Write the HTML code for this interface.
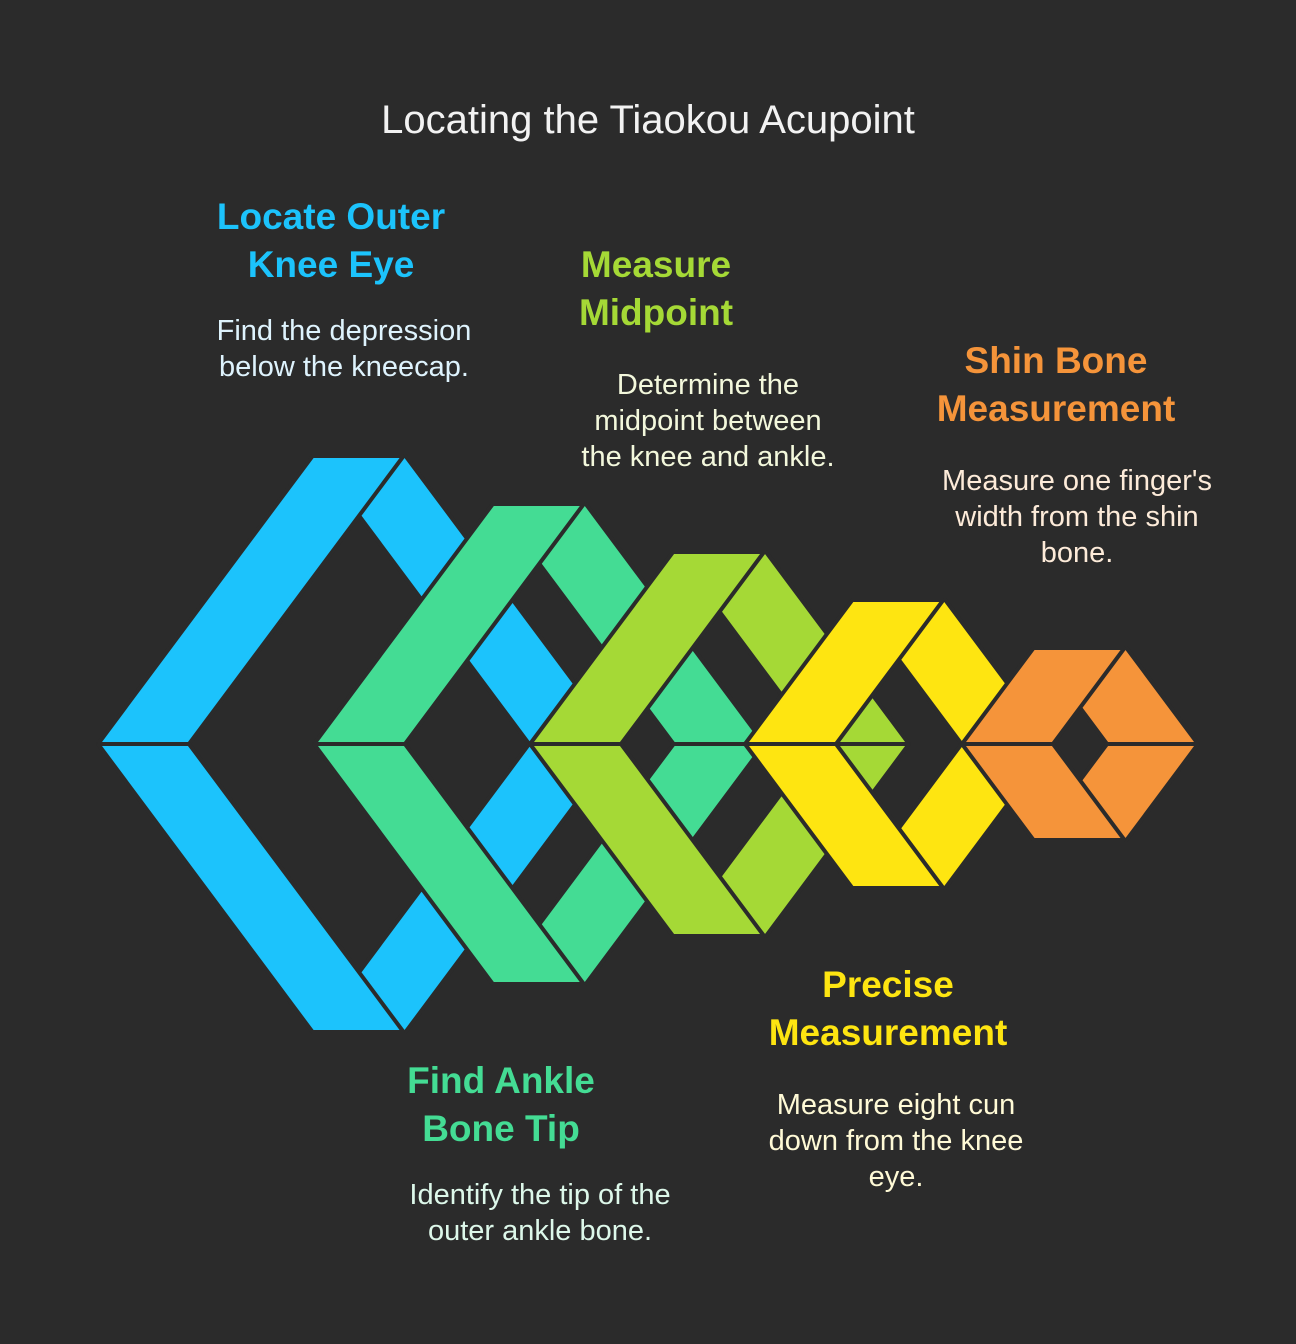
<!DOCTYPE html>
<html><head><meta charset="utf-8"><style>
html,body{margin:0;padding:0;background:#2b2b2b;}
svg{display:block;}
.t{font-family:"Liberation Sans",sans-serif;font-weight:bold;font-size:37px;text-anchor:middle;}
.d{font-family:"Liberation Sans",sans-serif;font-size:29px;text-anchor:middle;}
</style></head><body>
<svg width="1296" height="1344" viewBox="0 0 1296 1344" xmlns="http://www.w3.org/2000/svg">
<rect width="1296" height="1344" fill="#2b2b2b"/>
<g stroke="#2b2b2b" stroke-width="4" stroke-linejoin="bevel" id="g"></g>
<text x="648" y="133" font-family="Liberation Sans, sans-serif" font-size="40" fill="#f2f2f2" text-anchor="middle">Locating the Tiaokou Acupoint</text>
<text class="t" fill="#1cc3fc"><tspan x="331" y="229">Locate Outer</tspan><tspan x="331" y="277">Knee Eye</tspan></text>
<text class="d" fill="#def3fd"><tspan x="344" y="340">Find the depression</tspan><tspan x="344" y="376">below the kneecap.</tspan></text>
<text class="t" fill="#a5d936"><tspan x="656" y="277">Measure</tspan><tspan x="656" y="325">Midpoint</tspan></text>
<text class="d" fill="#f3f8dc"><tspan x="708" y="394">Determine the</tspan><tspan x="708" y="430">midpoint between</tspan><tspan x="708" y="466">the knee and ankle.</tspan></text>
<text class="t" fill="#f5943a"><tspan x="1056" y="373">Shin Bone</tspan><tspan x="1056" y="421">Measurement</tspan></text>
<text class="d" fill="#fdebd9"><tspan x="1077" y="490">Measure one finger's</tspan><tspan x="1077" y="526">width from the shin</tspan><tspan x="1077" y="562">bone.</tspan></text>
<text class="t" fill="#fee511"><tspan x="888" y="997">Precise</tspan><tspan x="888" y="1045">Measurement</tspan></text>
<text class="d" fill="#fffad6"><tspan x="896" y="1114">Measure eight cun</tspan><tspan x="896" y="1150">down from the knee</tspan><tspan x="896" y="1186">eye.</tspan></text>
<text class="t" fill="#44dc94"><tspan x="501" y="1093">Find Ankle</tspan><tspan x="501" y="1141">Bone Tip</tspan></text>
<text class="d" fill="#ddf8ea"><tspan x="540" y="1204">Identify the tip of the</tspan><tspan x="540" y="1240">outer ankle bone.</tspan></text>
</svg>
<script>
(function(){
var g=document.getElementById('g'),k=0.745,w=91,c=744;
var groups=[[98,288,'#1cc3fc'],[314,240,'#44dc94'],[530,192,'#a5d936'],[745,144,'#fee511'],[962,96,'#f5943a']];
function poly(pts,col){var p=document.createElementNS('http://www.w3.org/2000/svg','polygon');
p.setAttribute('points',pts.map(function(a){return a[0]+','+a[1];}).join(' '));p.setAttribute('fill',col);g.appendChild(p);}
groups.forEach(function(G){
var x0=G[0],h=G[1],col=G[2],kh=k*h;
[1,-1].forEach(function(s){
var top=c-s*h;
poly([[x0+kh+w+2,top],[x0+2*kh+w+2,c],[x0+2*kh+2,c],[x0+kh+2,top]],col);
});
[1,-1].forEach(function(s){
var top=c-s*h;
poly([[x0,c],[x0+kh,top],[x0+kh+w,top],[x0+w,c]],col);
});
});
})();
</script>
</body></html>
